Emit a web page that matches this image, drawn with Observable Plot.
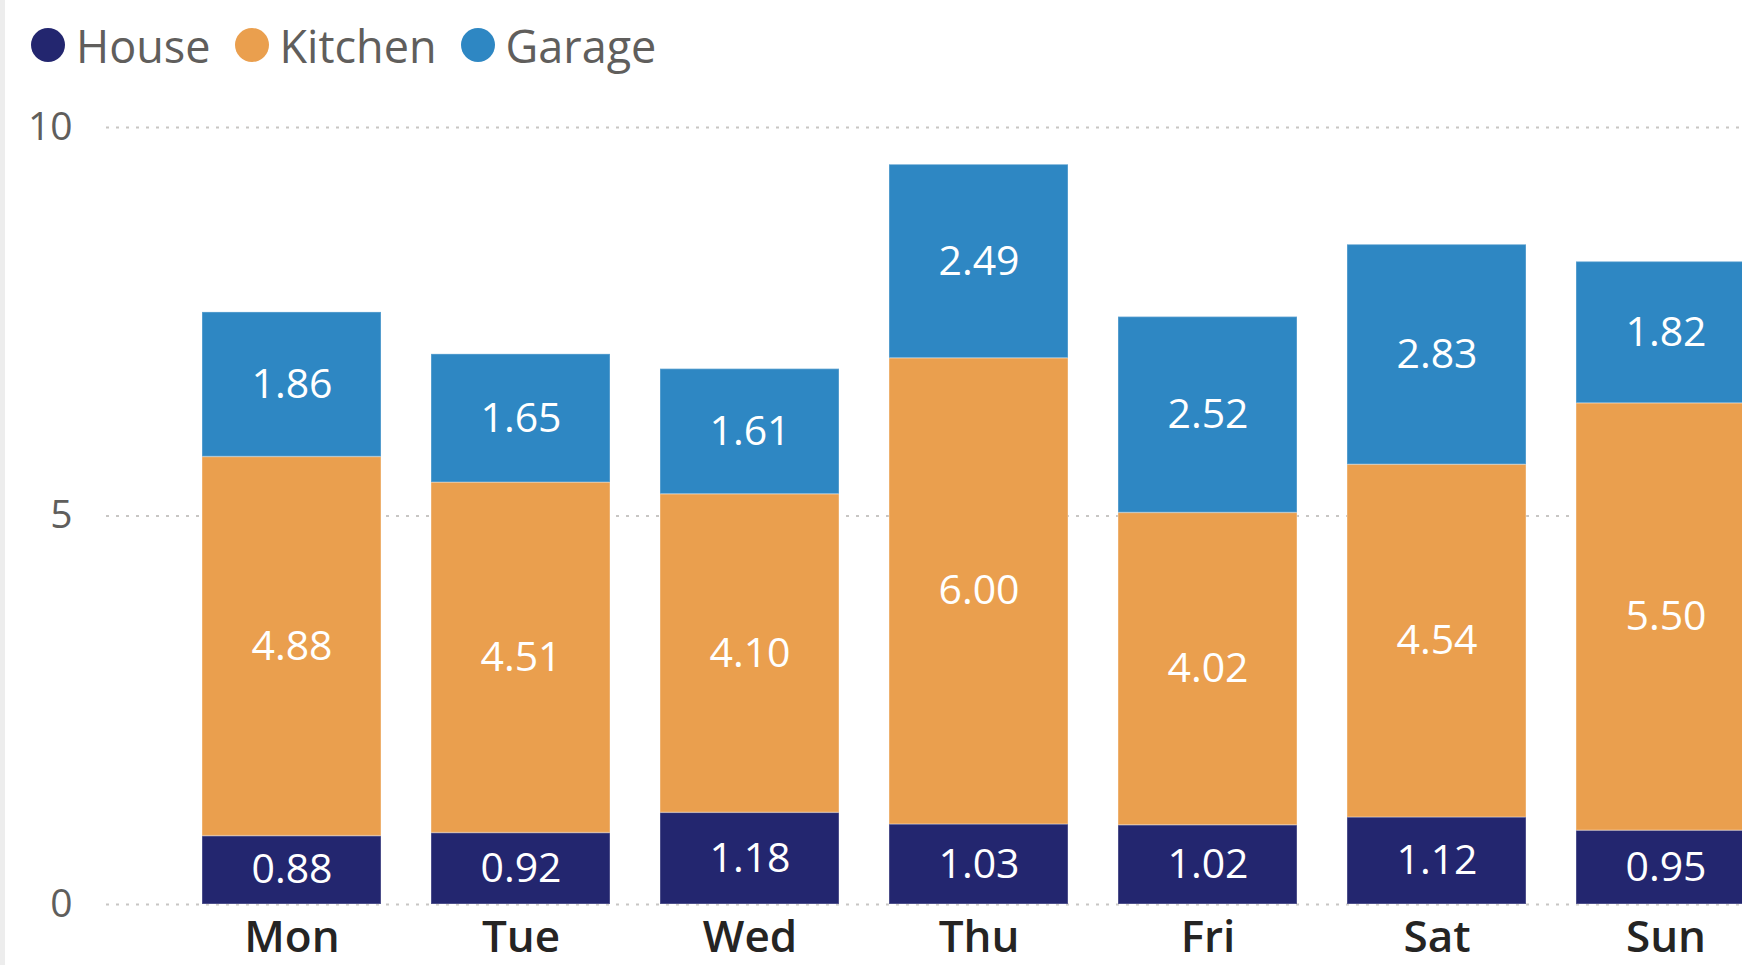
<!DOCTYPE html>
<html>
<head>
<meta charset="utf-8">
<script src="https://cdn.jsdelivr.net/npm/d3@7"></script>
<script src="https://cdn.jsdelivr.net/npm/@observablehq/plot@0.6"></script>
<style>
  html, body { margin: 0; padding: 0; background: #ffffff; overflow: hidden; width: 1742px; height: 965px; }
  #wrap { position: relative; width: 1742px; height: 965px; overflow: hidden; }
  #edge { position: absolute; left: 0; top: 0; width: 5px; height: 965px; background: #ededed; }
  #legend { position: absolute; left: 0; top: 0; height: 90px; display: flex; align-items: center; font-family: "Open Sans", sans-serif; font-size: 45px; color: #605E5C; padding-left: 31px; box-sizing: border-box; }
  .item { display: flex; align-items: center; margin-right: 24px; }
  .sw { width: 34px; height: 34px; border-radius: 50%; margin-right: 11px; }
  #chart { position: absolute; left: 0; top: 90px; }
  #chart svg { max-width: none !important; }
</style>
</head>
<body>
<div id="wrap">
  <div id="chart"></div>
  <div id="edge"></div>
  <div id="legend"></div>
</div>
<script>
const days = ["Mon", "Tue", "Wed", "Thu", "Fri", "Sat", "Sun"];
const categories = ["House", "Kitchen", "Garage"];
const house   = [0.88, 0.92, 1.18, 1.03, 1.02, 1.12, 0.95];
const kitchen = [4.88, 4.51, 4.10, 6.00, 4.02, 4.54, 5.50];
const garage  = [1.86, 1.65, 1.61, 2.49, 2.52, 2.83, 1.82];
const yTicks = [0, 5, 10];
const colors = ["#23266F", "#EA9F4E", "#2E87C3"];

const series = {House: house, Kitchen: kitchen, Garage: garage};
const data = [];
categories.forEach(c => days.forEach((d, i) => data.push({day: d, category: c, value: series[c][i]})));

// legend
const legend = document.getElementById("legend");
categories.forEach((c, i) => {
  const it = document.createElement("div");
  it.className = "item";
  const sw = document.createElement("span");
  sw.className = "sw";
  sw.style.background = colors[i];
  const lb = document.createElement("span");
  lb.textContent = c;
  it.appendChild(sw); it.appendChild(lb);
  legend.appendChild(it);
});

const chart = Plot.plot({
  width: 1800,
  height: 875,
  marginLeft: 106,
  marginRight: 20,
  marginTop: 37,
  marginBottom: 61,
  style: {fontFamily: "'Open Sans', sans-serif", background: "transparent", maxWidth: "none"},
  x: {domain: days, range: [176, 1780], paddingInner: 0.22, paddingOuter: 0.11, axis: null},
  y: {domain: [0, 10], axis: null},
  color: {domain: categories, range: colors},
  marks: [
    Plot.ruleY(yTicks, {stroke: "#C8C6C4", strokeWidth: 2, strokeDasharray: "3,7"}),
    Plot.barY(data, Plot.stackY({x: "day", y: "value", fill: "category", stroke: "white", strokeOpacity: 0.25, strokeWidth: 1.5})),
    Plot.text(data, Plot.stackY({x: "day", y: "value", text: d => d.value.toFixed(2), fill: "white", fontSize: 41})),
    Plot.axisY(yTicks, {tickSize: 0, tickPadding: 34, fontSize: 39, fill: "#605E5C", label: null, tickFormat: d => String(d)}),
    Plot.axisX({tickSize: 0, tickPadding: 16, fontSize: 44, fontWeight: 600, fill: "#252423", label: null})
  ]
});
document.getElementById("chart").appendChild(chart);
</script>
</body>
</html>
